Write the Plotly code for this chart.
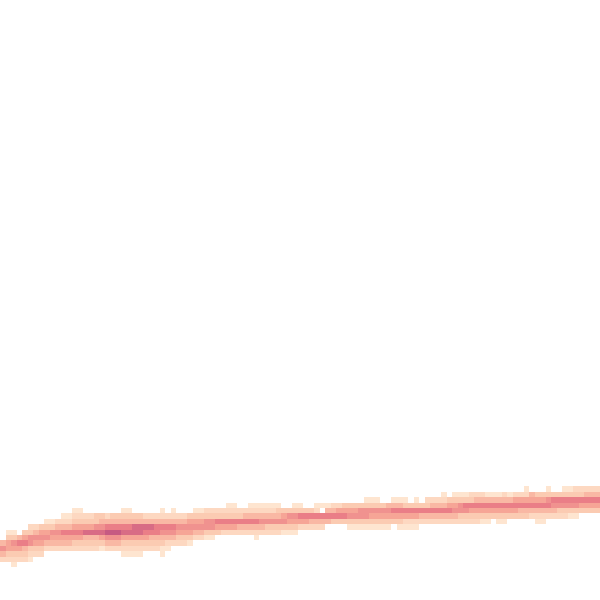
import plotly.graph_objects as go

# Per x-bin (column): first y-bin index (counted from the top) and the
# density level of each consecutive y-bin going down (0 = empty).
band_start = [
    100, 98, 98, 98, 98, 97, 97, 97, 96, 96,
    96, 95, 95, 94, 94, 95, 95, 95, 95, 95,
    95, 95, 94, 94, 95, 95, 95, 95, 95, 94,
    95, 94, 95, 95, 95, 94, 94, 94, 94, 94,
    94, 93, 93, 94, 94, 93, 93, 93, 93, 93,
    93, 94, 94, 93, 93, 94, 94, 93, 93, 93,
    93, 93, 93, 93, 93, 93, 92, 92, 92, 93,
    93, 92, 92, 92, 93, 92, 93, 92, 92, 92,
    91, 92, 91, 91, 91, 91, 91, 91, 91, 91,
    91, 91, 91, 91, 91, 90, 91, 91, 91, 90,
    91, 91, 90, 90, 90, 90, 90, 90, 90,
]
band_levels = [
    "4642", "135532", "1365321", "047532", "357432", "2366321", "246532", "356532", "135642", "136542",
    "246542", "1247542", "1247542", "12357532", "12357532", "2358432", "2358432", "3368432", "3468531", "2479642",
    "3479642", "3479642", "134785321", "134785321", "34885321", "34885321", "2487532", "2487432", "2477432", "124764311",
    "2476421", "1247642", "246532", "246532", "356531", "135642", "135642", "236631", "236631", "23753",
    "23752", "123752", "123752", "23742", "24742", "124742", "1247421", "124642", "124632", "124632",
    "134632", "35631", "36531", "136531", "13752", "3752", "3742", "12742", "10742", "1474",
    "2473", "2573", "3573", "35631", "35631", "36631", "136631", "136531", "136531", "36531",
    "46531", "14753", "147531", "137521", "37521", "137521", "3742", "23742", "24742", "24742",
    "124742", "35742", "135642", "136632", "137632", "237532", "247532", "247531", "147531", "14753",
    "147531", "247531", "14753", "25753", "25743", "125743", "45742", "357421", "357421", "136742",
    "37642", "37632", "137632", "137631", "237631", "23753", "24753", "24753", "24753",
]

n_cols = len(band_levels)
n_rows = 111
col_w = 5.515
row_h = 5.4
row_off = 0.8

z = [[None] * n_cols for _ in range(n_rows)]
for c, (s, lev) in enumerate(zip(band_start, band_levels)):
    for k, ch in enumerate(lev):
        v = int(ch)
        if v > 0:
            z[s + k][c] = v

fig = go.Figure(go.Heatmap(
    z=z,
    x0=col_w / 2, dx=col_w,
    y0=row_off + row_h / 2, dy=row_h,
    zmin=1, zmax=9,
    colorscale=[
        [0.0, "rgb(254,229,208)"],
        [0.25, "rgb(251,203,178)"],
        [0.5, "rgb(246,165,150)"],
        [0.75, "rgb(234,126,135)"],
        [1.0, "rgb(198,90,130)"],
    ],
    showscale=False,
    hoverongaps=False,
))
fig.update_layout(
    width=600, height=600,
    margin=dict(l=0, r=0, t=0, b=0),
    paper_bgcolor="white", plot_bgcolor="white",
    xaxis=dict(range=[0, 600], visible=False),
    yaxis=dict(range=[600, 0], visible=False),
)
fig.write_html(
    "out.html",
    config={"displayModeBar": False},
    post_script="document.body.style.margin='0';document.body.style.overflow='hidden';",
)
